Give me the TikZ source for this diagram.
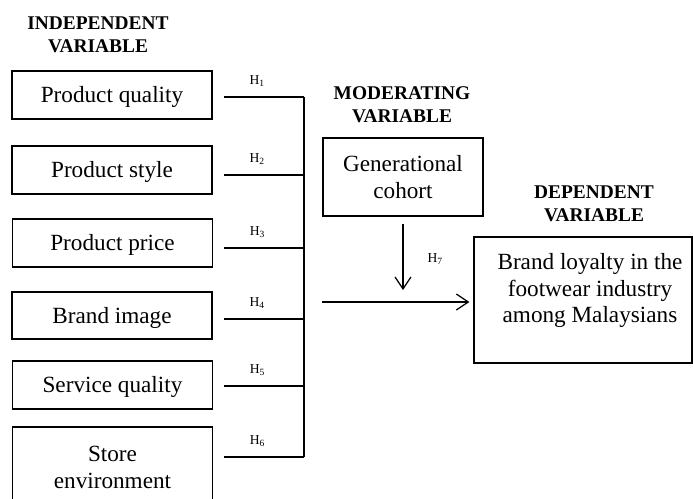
\documentclass[tikz,border=0pt]{standalone}
\usepackage{fontspec}
\setmainfont{Liberation Serif}
\usetikzlibrary{arrows.meta}

\begin{document}
\begin{tikzpicture}[x=0.5pt,y=-0.5pt]
    \tikzstyle{every node}+=[inner sep=0pt]
    \tikzstyle{varbox}=[draw,line width=0.6pt,minimum width=100pt,minimum height=24pt,
        font=\fontsize{11.6}{13.5}\selectfont,align=center]
    \tikzstyle{oneline}=[text height=7.7pt,text depth=0pt]
    \tikzstyle{heading}=[font=\fontsize{9.7}{11.5}\selectfont\bfseries,align=center]
    \tikzstyle{hlab}=[font=\fontsize{6.8}{8}\selectfont]
    \tikzstyle{wire}=[line width=0.6pt]
    \tikzstyle{arr}=[line width=0.6pt,-{Straight Barb[length=6pt,width=8pt]}]
    \useasboundingbox (0,0) rectangle (693,499);
    % headings
    \node[heading] (indep) at (98,35) {INDEPENDENT\\VARIABLE};
    \node[heading] (moder) at (402,105) {MODERATING\\VARIABLE};
    \node[heading] (depen) at (594,204) {DEPENDENT\\VARIABLE};
    % independent variables
    \node[varbox,oneline] (pq) at (112,95) {Product quality};
    \node[varbox,oneline] (ps) at (112,170) {Product style};
    \node[varbox,oneline] (pp) at (112.5,243) {Product price};
    \node[varbox,oneline,minimum height=23.5pt] (bi) at (112,315.5) {Brand image};
    \node[varbox,oneline] (sq) at (112.5,385) {Service quality};
    \node[varbox,minimum height=40.5pt] (se) at (112.5,467.5) {Store\\environment};
    % moderating and dependent variables
    \node[varbox,minimum width=80pt,minimum height=39pt] (gc) at (403,177) {Generational\\cohort};
    \node[varbox,minimum width=109pt,minimum height=63pt] (dv) at (583,300) {};
    \node[font=\fontsize{11.6}{13.25}\selectfont,align=center] (dvtext) at (590,290.5)
        {Brand loyalty in the\\footwear industry\\among Malaysians};
    % hypotheses H1--H6
    \foreach \b/\y/\h in {pq/97/1,ps/175/2,pp/248/3,bi/319/4,sq/386/5,se/457/6}{
        \coordinate (h\h) at (304,\y);
        \draw[wire] (h\h -| \b.east) ++(11,0) -- (h\h)
            node[hlab,pos=0.42,above=5pt] {H\textsubscript{\h}};
    }
    \draw[wire] (h1) -- (h6);
    % main effect and moderation
    \coordinate (join) at (322,302);
    \draw[arr,shorten >=2pt] (join) -- (join -| dv.west);
    \draw[arr,shorten <=3.5pt,shorten >=6pt] (gc.south) -- (gc.south |- join)
        node[hlab,pos=0.5,right=12pt] {H\textsubscript{7}};
\end{tikzpicture}
\end{document}
